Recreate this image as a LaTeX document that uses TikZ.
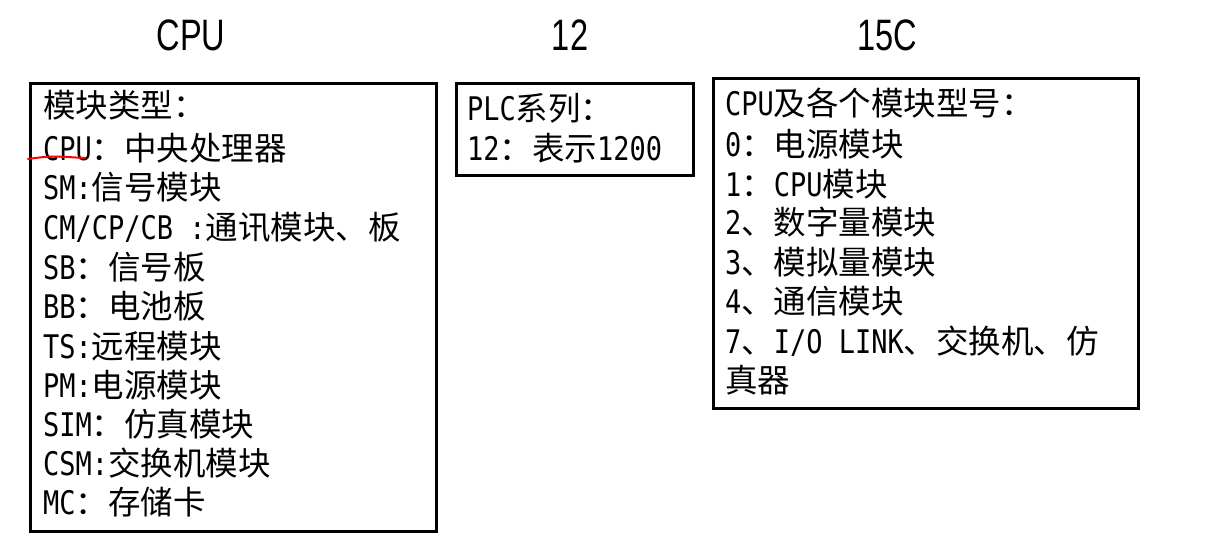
\documentclass[tikz,border=0pt]{standalone}
\usepackage{fontspec}
\setmainfont{Noto Sans CJK SC}
\newfontfamily\latn[FakeStretch=0.83]{DejaVu Sans Mono}
\newfontfamily\headf[FakeStretch=0.74]{Liberation Sans}
\newcommand\LT[1]{{\latn #1}}
\tikzset{
  box/.style={draw=black, line width=3pt, minimum width=#1, inner sep=0pt},
  ln/.style={anchor=base west, inner sep=0pt, font=\fontsize{32.5}{32.5}\selectfont},
  head/.style={inner sep=0pt, font=\headf\fontsize{44}{44}\selectfont}
}
\begin{document}
\begin{tikzpicture}[x=1pt,y=-1pt]
\useasboundingbox (0,0) rectangle (1230,554);
% headings
\node[head] (h1) at (191,35) {CPU};
\node[head] (h2) at (570,35) {12};
\node[head] (h3) at (887,35) {15C};
% boxes
\node[box=406pt, minimum height=448pt] (b1) at (233,307) {};
\node[box=237pt, minimum height=92pt] (b2) at (574.5,129) {};
\node[box=425pt, minimum height=330pt] (b3) at (925.5,243) {};
% left box text
\node[ln] (l1) at (43,117) {模块类型：};
\node[ln] (l2) at (43,160) {\LT{CPU}：中央处理器};
\node[ln] (l3) at (43,199) {\LT{SM:}信号模块};
\node[ln] (l4) at (43,239) {\LT{CM/CP/CB :}通讯模块、板};
\node[ln] (l5) at (43,279) {\LT{SB}：信号板};
\node[ln] (l6) at (43,318) {\LT{BB}：电池板};
\node[ln] (l7) at (43,358) {\LT{TS:}远程模块};
\node[ln] (l8) at (43,397) {\LT{PM:}电源模块};
\node[ln] (l9) at (43,436) {\LT{SIM}：仿真模块};
\node[ln] (l10) at (43,475) {\LT{CSM:}交换机模块};
\node[ln] (l11) at (43,514) {\LT{MC}：存储卡};
% middle box text
\node[ln] (m1) at (467,120) {\LT{PLC}系列：};
\node[ln] (m2) at (467,160) {\LT{12}：表示\LT{1200}};
% right box text
\node[ln] (r1) at (725,115) {\LT{CPU}及各个模块型号：};
\node[ln] (r2) at (725,156) {\LT{0}：电源模块};
\node[ln] (r3) at (725,196) {\LT{1}：\LT{CPU}模块};
\node[ln] (r4) at (725,234) {\LT{2}、数字量模块};
\node[ln] (r5) at (725,274) {\LT{3}、模拟量模块};
\node[ln] (r6) at (725,313) {\LT{4}、通信模块};
\node[ln] (r7) at (725,353) {\LT{7}、\LT{I/O LINK}、交换机、仿};
\node[ln] (r8) at (725,392) {真器};
% red pen mark
\draw[red, line width=2pt, line cap=round] (28,159) .. controls (50,156) .. (85,158);
\end{tikzpicture}
\end{document}
